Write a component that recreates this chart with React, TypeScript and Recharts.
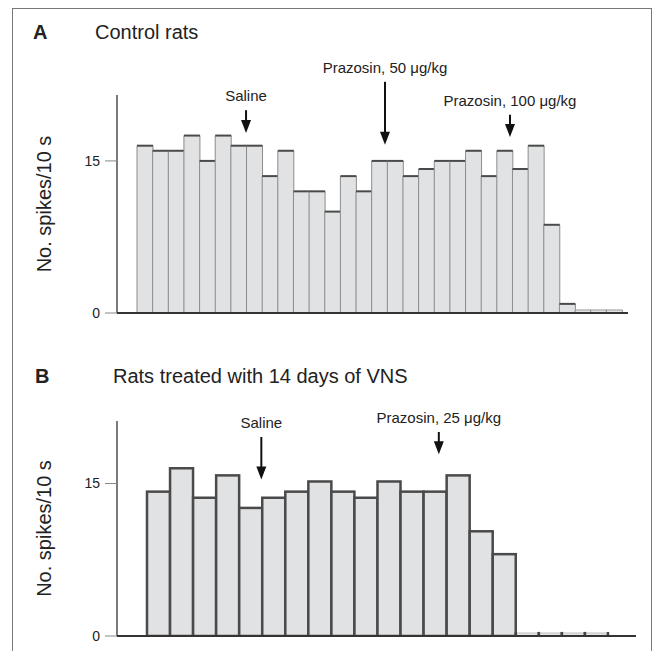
import { BarChart, Bar, XAxis, YAxis, ReferenceLine } from "recharts";

// spikes per 10 s bin
const controlSpikes = [
  16.5, 16, 16, 17.5, 15, 17.5, 16.5, 16.5, 13.5, 16, 12, 12, 10, 13.5, 12, 15,
  15, 13.5, 14.2, 15, 15, 16, 13.5, 16, 14.2, 16.5, 8.7, 0.9, 0.3, 0.3, 0.3,
];
const vnsSpikes = [
  14.2, 16.5, 13.6, 15.8, 12.6, 13.6, 14.2, 15.2, 14.2, 13.6, 15.2, 14.2, 14.2,
  15.8, 10.3, 8.05, 0.3, 0.3, 0.3, 0.3,
];
const yTicks = [0, 15];

// drug injection markers: label, position in bins, arrow start / tip (spikes scale)
const controlMarkers = ["Saline", "Prazosin, 50 μg/kg", "Prazosin, 100 μg/kg"];
const controlMarkerBins = [6.97, 15.85, 23.84];
const controlMarkerTop = [20.0, 22.8, 19.55];
const controlMarkerTip = [17.75, 16.6, 17.35];

const vnsMarkers = ["Saline", "Prazosin, 25 μg/kg"];
const vnsMarkerBins = [4.96, 12.66];
const vnsMarkerTop = [19.58, 20.07];
const vnsMarkerTip = [15.39, 17.88];

// bin i covers [i-1, i] on the numeric axis
const controlData = controlSpikes.map((spikes, i) => ({ bin: i + 1, spikes }));
const vnsData = vnsSpikes.map((spikes, i) => ({ bin: i + 1, spikes }));

const FONT = "'Liberation Sans', Arial, Helvetica, sans-serif";
const FILL = "#e1e2e4";

const ThinBar = (p: any) => {
  const { x, y, width, height } = p;
  const small = height < 6;
  return (
    <g>
      <rect x={x} y={y} width={width} height={height} fill={FILL} />
      <line x1={x} y1={y} x2={x} y2={y + height} stroke="#8c8c8c" strokeWidth={1} />
      <line x1={x + width} y1={y} x2={x + width} y2={y + height} stroke="#8c8c8c" strokeWidth={1} />
      <line x1={x} y1={y} x2={x + width} y2={y} stroke={small ? "#9a9a9a" : "#4a4a4a"} strokeWidth={small ? 1 : 2} />
    </g>
  );
};

const ThickBar = (p: any) => {
  const { x, y, width, height } = p;
  if (height < 6) {
    return (
      <g>
        <rect x={x} y={y} width={width} height={height} fill={FILL} stroke="#c4c4c4" strokeWidth={1} />
        <line x1={x} y1={y - 1} x2={x} y2={y + height} stroke="#444" strokeWidth={2.5} />
        <line x1={x + width} y1={y - 1} x2={x + width} y2={y + height} stroke="#444" strokeWidth={2.5} />
      </g>
    );
  }
  return <rect x={x} y={y} width={width} height={height} fill={FILL} stroke="#4a4a4a" strokeWidth={2.5} />;
};

const Arrow = (p: any) => {
  const { x1, y1, x2, y2, text } = p;
  const top = Math.min(y1, y2);
  const tip = Math.max(y1, y2);
  const x = (x1 + x2) / 2;
  return (
    <g>
      <text x={x} y={top - 9} textAnchor="middle" fontSize={15} fontFamily={FONT} fill="#222">
        {text}
      </text>
      <line x1={x} y1={top} x2={x} y2={tip - 10} stroke="#111" strokeWidth={2} />
      <polygon points={`${x - 5},${tip - 13} ${x + 5},${tip - 13} ${x},${tip}`} fill="#111" />
    </g>
  );
};

const AxisTitle = (p: any) => {
  const vb = p.viewBox || {};
  const cx = (vb.x || 0) + 44;
  const cy = (vb.y || 0) + (vb.height || 0) / 2;
  return (
    <text
      x={cx}
      y={cy}
      transform={`rotate(-90 ${cx} ${cy})`}
      textAnchor="middle"
      dominantBaseline="central"
      fontSize={20}
      fontFamily={FONT}
      fill="#222"
    >
      No. spikes/10 s
    </text>
  );
};

type PanelProps = {
  data: { bin: number; spikes: number }[];
  height: number;
  margin: { top: number; right: number; bottom: number; left: number };
  yMax: number;
  padding: { left: number; right: number };
  markers: string[];
  markerBins: number[];
  markerTop: number[];
  markerTip: number[];
  shape: (p: any) => any;
};

function Panel({ data, height, margin, yMax, padding, markers, markerBins, markerTop, markerTip, shape }: PanelProps) {
  return (
    <BarChart width={656} height={height} data={data} margin={margin} barCategoryGap={0} barGap={0}>
      <XAxis dataKey="bin" hide padding={padding} />
      <XAxis
        xAxisId="num"
        dataKey="bin"
        type="number"
        domain={[0, data.length]}
        allowDataOverflow
        hide
        padding={padding}
      />
      <YAxis
        domain={[0, yMax]}
        ticks={yTicks}
        allowDataOverflow
        width={117}
        tickSize={12}
        tickMargin={5}
        axisLine={{ stroke: "#333", strokeWidth: 1.3 }}
        tickLine={{ stroke: "#888", strokeWidth: 1 }}
        tick={{ fill: "#222", fontSize: 14, fontFamily: FONT }}
        label={{ content: AxisTitle }}
      />
      <Bar dataKey="spikes" isAnimationActive={false} shape={shape} />
      <ReferenceLine y={0} stroke="#333" strokeWidth={2} />
      {markers.map((m, i) => (
        <ReferenceLine
          key={m + i}
          xAxisId="num"
          ifOverflow="visible"
          segment={[
            { x: markerBins[i], y: markerTop[i] },
            { x: markerBins[i], y: markerTip[i] },
          ]}
          shape={(p: any) => <Arrow {...p} text={m} />}
        />
      ))}
    </BarChart>
  );
}

export default function App() {
  return (
    <div
      style={{
        position: "absolute",
        left: 0,
        top: 0,
        width: 656,
        height: 651,
        overflow: "hidden",
        background: "#fff",
        fontFamily: FONT,
        color: "#222",
      }}
    >
      <div
        style={{
          position: "absolute",
          left: 12,
          top: 8,
          width: 638,
          height: 643,
          borderLeft: "1.5px solid #777",
          borderTop: "1.5px solid #777",
          borderRight: "1.5px solid #777",
        }}
      />
      <div style={{ position: "absolute", left: 33, top: 22, fontSize: 20, fontWeight: "bold", lineHeight: 1 }}>A</div>
      <div style={{ position: "absolute", left: 95, top: 22, fontSize: 20, lineHeight: 1 }}>Control rats</div>
      <div style={{ position: "absolute", left: 35, top: 366, fontSize: 20, fontWeight: "bold", lineHeight: 1 }}>B</div>
      <div style={{ position: "absolute", left: 113, top: 366, fontSize: 20, lineHeight: 1 }}>
        Rats treated with 14 days of VNS
      </div>

      <div style={{ position: "absolute", left: 0, top: 0 }}>
        <Panel
          data={controlData}
          height={330}
          margin={{ top: 95, right: 28, bottom: 17, left: 0 }}
          yMax={21.5}
          padding={{ left: 20, right: 6 }}
          markers={controlMarkers}
          markerBins={controlMarkerBins}
          markerTop={controlMarkerTop}
          markerTip={controlMarkerTip}
          shape={ThinBar}
        />
      </div>
      <div style={{ position: "absolute", left: 0, top: 330 }}>
        <Panel
          data={vnsData}
          height={321}
          margin={{ top: 91, right: 20, bottom: 15, left: 0 }}
          yMax={21.15}
          padding={{ left: 30, right: 28 }}
          markers={vnsMarkers}
          markerBins={vnsMarkerBins}
          markerTop={vnsMarkerTop}
          markerTip={vnsMarkerTip}
          shape={ThickBar}
        />
      </div>
    </div>
  );
}
